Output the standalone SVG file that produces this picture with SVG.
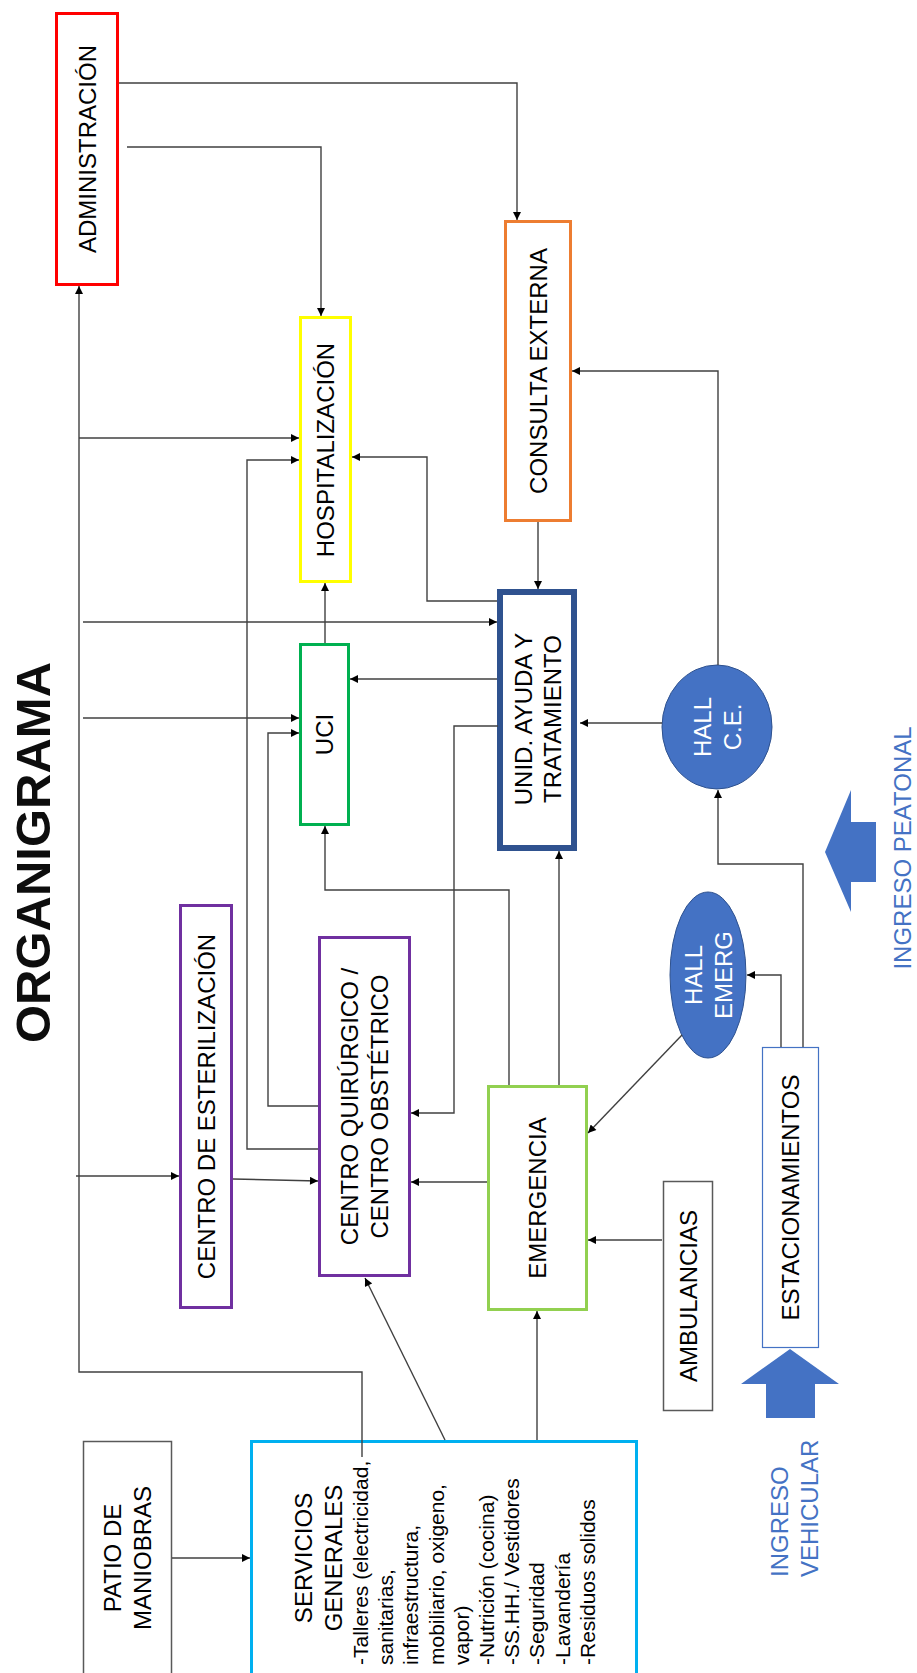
<svg xmlns="http://www.w3.org/2000/svg" width="917" height="1673" viewBox="0 0 917 1673">
<style>
text{font-family:"Liberation Sans",Arial,sans-serif;fill:#000}
.lbl{font-size:24px;text-anchor:middle}
.body{font-size:21px;text-anchor:start}
.title{font-size:49px;font-weight:bold;text-anchor:middle;fill:#0d0d0d}
.ing{font-size:24px;fill:#4472C4}
.hall{font-size:24px;text-anchor:middle;fill:#fff}
.box{fill:#fff;stroke-width:3}
.thin{fill:#fff;stroke-width:1.5}
.heavy{fill:#fff;stroke-width:6}
.conn path{fill:none;stroke:#404040;stroke-width:1.4}
.conn path.a{marker-end:url(#ah)}
</style>
<defs>
<marker id="ah" viewBox="0 0 10 10" refX="10" refY="5" markerUnits="userSpaceOnUse" markerWidth="9" markerHeight="8" orient="auto">
<path d="M0,0 L10,5 L0,10 z" fill="#000"/>
</marker>
</defs>
<rect width="917" height="1673" fill="#fff"/>

<text class="title" transform="translate(32.5,852.5) rotate(-90)" y="17.5">ORGANIGRAMA</text>

<g id="administracion">
<rect class="box" x="56.5" y="13.5" width="61" height="271" stroke="#FF0000"/>
<text class="lbl" transform="translate(87,149) rotate(-90)" y="8.6">ADMINISTRACIÓN</text>
</g>
<g id="hospitalizacion">
<rect class="box" x="300.5" y="317.5" width="50" height="264" stroke="#FFFF00"/>
<text class="lbl" transform="translate(325.5,450) rotate(-90)" y="8.6">HOSPITALIZACIÓN</text>
</g>
<g id="consulta">
<rect class="box" x="505.5" y="221.5" width="65" height="299" stroke="#ED7D31"/>
<text class="lbl" transform="translate(538,371) rotate(-90)" y="8.6">CONSULTA EXTERNA</text>
</g>
<g id="uci">
<rect class="box" x="300.5" y="644.5" width="48" height="180" stroke="#00B050"/>
<text class="lbl" transform="translate(324.5,734.5) rotate(-90)" y="8.6">UCI</text>
</g>
<g id="unid">
<rect class="heavy" x="500" y="592" width="74" height="256" stroke="#2F528F"/>
<text class="lbl" transform="translate(537.5,719) rotate(-90)"><tspan x="0" y="-5.9">UNID. AYUDA Y</tspan><tspan x="0" y="23.1">TRATAMIENTO</tspan></text>
</g>
<g id="esterilizacion">
<rect class="box" x="180.5" y="905.5" width="51" height="402" stroke="#7030A0"/>
<text class="lbl" transform="translate(206,1106.5) rotate(-90)" y="8.6">CENTRO DE ESTERILIZACIÓN</text>
</g>
<g id="quirurgico">
<rect class="box" x="319.5" y="937.5" width="90" height="338" stroke="#7030A0"/>
<text class="lbl" transform="translate(364,1106.5) rotate(-90)"><tspan x="0" y="-6.4">CENTRO QUIRÚRGICO /</tspan><tspan x="0" y="23.6">CENTRO OBSTÉTRICO</tspan></text>
</g>
<g id="emergencia">
<rect class="box" x="488.5" y="1086.5" width="98" height="223" stroke="#92D050"/>
<text class="lbl" transform="translate(537.5,1198) rotate(-90)" y="8.6">EMERGENCIA</text>
</g>
<g id="ambulancias">
<rect class="thin" x="663.5" y="1181.5" width="49" height="229" stroke="#595959"/>
<text class="lbl" transform="translate(688,1296) rotate(-90)" y="8.6">AMBULANCIAS</text>
</g>
<g id="estacionamientos">
<rect class="thin" x="762.5" y="1047.5" width="56" height="300" stroke="#4472C4" style="stroke-width:1.2"/>
<text class="lbl" transform="translate(790.5,1197.5) rotate(-90)" y="8.6">ESTACIONAMIENTOS</text>
</g>
<g id="patio">
<rect class="thin" x="83.5" y="1441.5" width="88" height="240" stroke="#595959"/>
<text class="lbl" transform="translate(127,1558) rotate(-90)"><tspan x="0" y="-6.4">PATIO DE</tspan><tspan x="0" y="23.6">MANIOBRAS</tspan></text>
</g>
<g id="servicios">
<rect class="box" x="251.5" y="1441.5" width="385" height="240" stroke="#00B0F0"/>
<g transform="rotate(-90)">
<text class="lbl" x="-1558" y="312">SERVICIOS</text>
<text class="lbl" x="-1558" y="342">GENERALES</text>
<text class="body" x="-1665" y="368">-Talleres (electricidad,</text>
<text class="body" x="-1665" y="393.2">sanitarias,</text>
<text class="body" x="-1665" y="418.4">infraestructura,</text>
<text class="body" x="-1665" y="443.6">mobiliario, oxigeno,</text>
<text class="body" x="-1665" y="468.8">vapor)</text>
<text class="body" x="-1665" y="494">-Nutrición (cocina)</text>
<text class="body" x="-1665" y="519.2">-SS.HH./ Vestidores</text>
<text class="body" x="-1665" y="544.4">-Seguridad</text>
<text class="body" x="-1665" y="569.6">-Lavandería</text>
<text class="body" x="-1665" y="594.8">-Residuos solidos</text>
</g>
</g>
<g id="hall-ce">
<ellipse cx="717" cy="727" rx="55" ry="62" fill="#4472C4" stroke="#2F528F" stroke-width="1"/>
<text class="hall" transform="translate(717,727) rotate(-90)"><tspan x="0" y="-6.4">HALL</tspan><tspan x="0" y="23.6">C.E.</tspan></text>
</g>
<g id="hall-emerg">
<ellipse cx="708" cy="975" rx="38" ry="83" fill="#4472C4" stroke="#2F528F" stroke-width="1"/>
<text class="hall" transform="translate(708.5,975) rotate(-90)"><tspan x="0" y="-6.4">HALL</tspan><tspan x="0" y="23.6">EMERG</tspan></text>
</g>
<g id="ingreso-vehicular">
<polygon points="790,1349 839,1384 815,1384 815,1418 766,1418 766,1384 741,1384" fill="#4472C4"/>
<g transform="rotate(-90)">
<text class="ing" x="-1577" y="788">INGRESO</text>
<text class="ing" x="-1577" y="818">VEHICULAR</text>
</g>
</g>
<g id="ingreso-peatonal">
<polygon points="825,852 851,790 851,822 876,822 876,882 851,882 851,912" fill="#4472C4"/>
<text class="ing" transform="rotate(-90)" x="-848" y="911" text-anchor="middle">INGRESO PEATONAL</text>
</g>

<g id="connectors" class="conn">
<path class="a" d="M119,83 H517 V220"/>
<path class="a" d="M127,147 H321 V316"/>
<path class="a" d="M362,1457 V1372 H79 V286"/>
<path class="a" d="M79,438 H299"/>
<path class="a" d="M83,622 H497"/>
<path class="a" d="M83,718 H299"/>
<path class="a" d="M76,1176 H179"/>
<path class="a" d="M233,1179 L318,1181"/>
<path class="a" d="M318,1149 H247 V460 H299"/>
<path class="a" d="M318,1106 H268 V733 H299"/>
<path class="a" d="M497,601 H427 V457 H352"/>
<path class="a" d="M497,679 H350"/>
<path class="a" d="M325,643 V583"/>
<path class="a" d="M538,522 V589"/>
<path class="a" d="M718,665 V371 H572"/>
<path class="a" d="M662,723 H580"/>
<path class="a" d="M781,1047 V975 H747"/>
<path class="a" d="M803,1047 V864 H718 V790"/>
<path class="a" d="M682,1035 L588,1133"/>
<path class="a" d="M662,1240 H588"/>
<path class="a" d="M509,1085 V890 H325 V826"/>
<path class="a" d="M559,1085 V851"/>
<path class="a" d="M487,1182 H411"/>
<path class="a" d="M445,1440 L365,1278"/>
<path class="a" d="M537,1440 V1311"/>
<path class="a" d="M172,1558 H250"/>
<path class="a" d="M498,726 H454 V1113 H411"/>
</g>
</svg>
